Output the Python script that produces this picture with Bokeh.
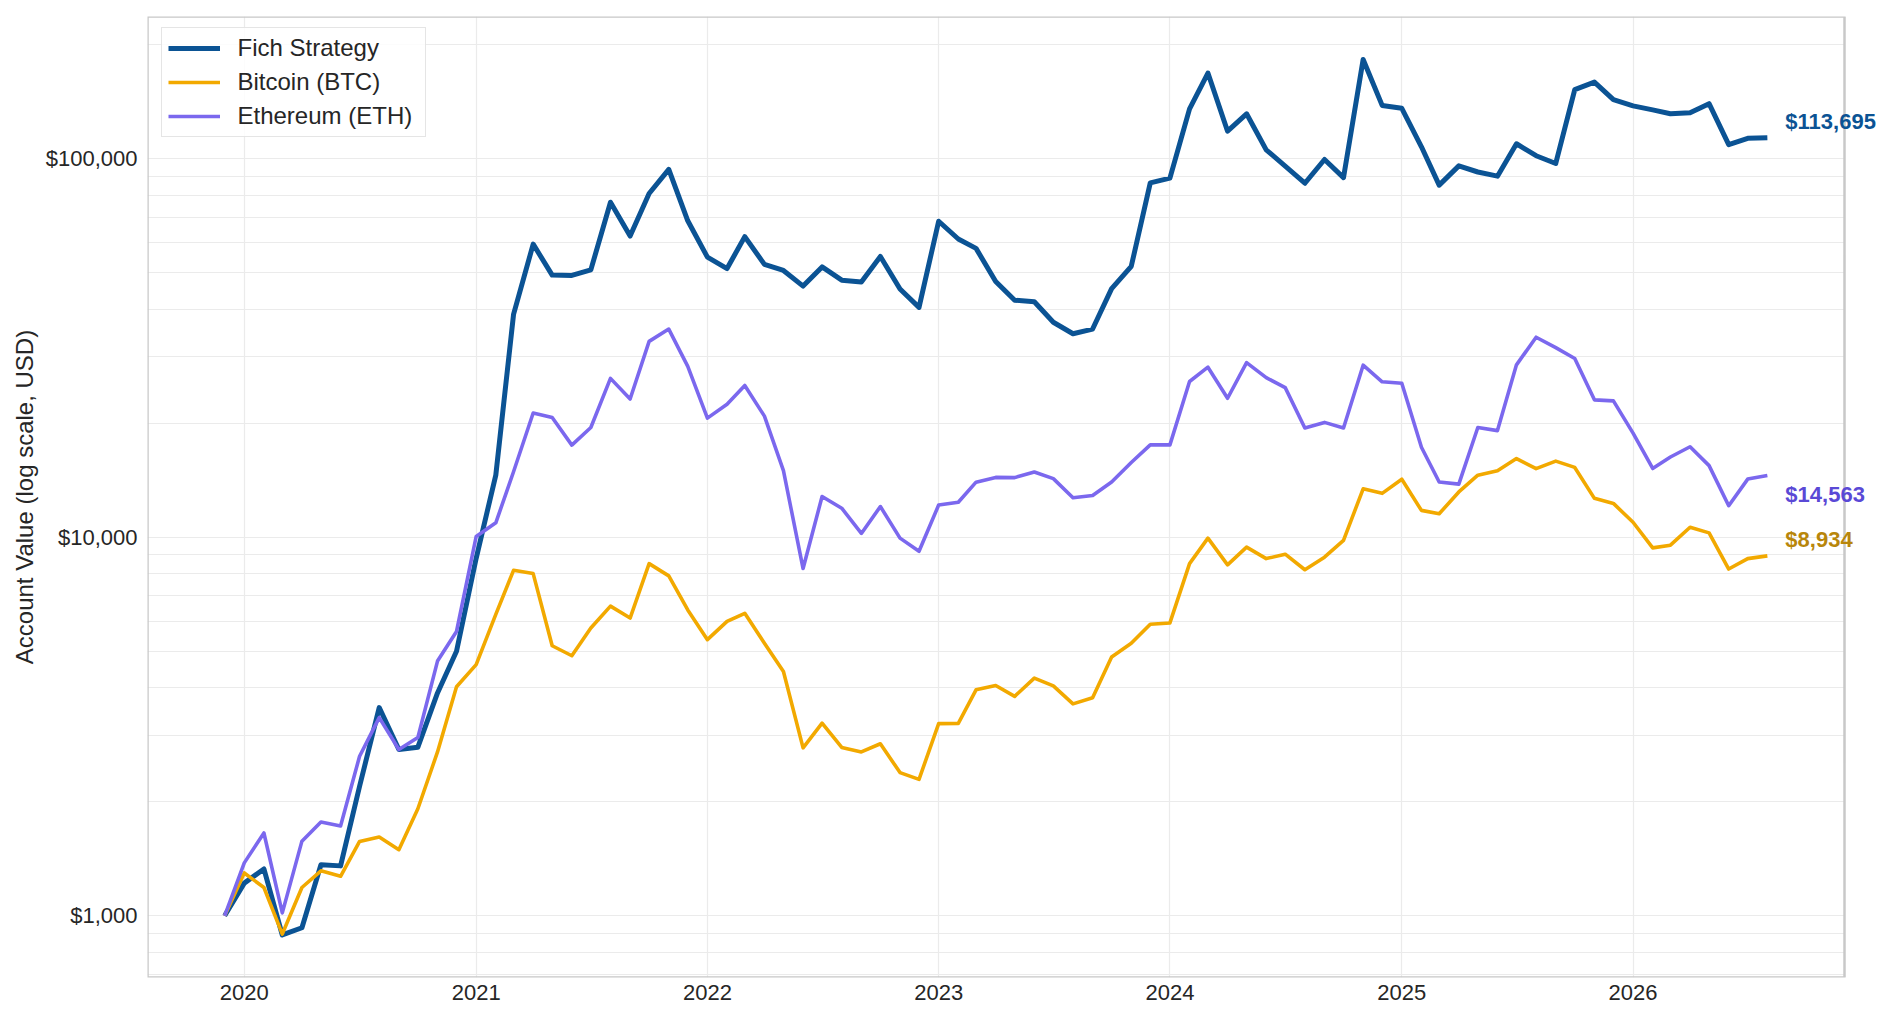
import pandas as pd
from bokeh.plotting import figure
from bokeh.models import (FixedTicker, NumeralTickFormatter, DatetimeTickFormatter,
                          Range1d, Label, Legend, LegendItem, BoxAnnotation)
from bokeh.embed import file_html
from bokeh.resources import INLINE

# ---------------- data ----------------
dates = pd.date_range("2019-12-01", periods=81, freq="MS")

fich = [1000, 1220, 1330, 890, 930, 1365, 1355, 2200, 3550, 2750,
        2790, 3880, 5000, 8800, 14600, 38800, 59500, 49300, 49200, 50900,
        76800, 62500, 81000, 93800, 68600, 55000, 51300, 62300, 52600, 50700,
        46100, 51800, 47800, 47300, 55200, 45300, 40500, 68400, 61400, 58000,
        47400, 42300, 41900, 37000, 34500, 35500, 45400, 52000, 86400, 88900,
        135500, 168500, 118300, 131500, 105600, 95700, 86200, 99600, 89200, 183000,
        138400, 136000, 107600, 85200, 95800, 92300, 90000, 109600, 101900, 97200,
        152300, 159500, 143300, 138000, 134700, 131500, 132300, 139900, 109000, 113300,
        113695]

btc = [1000, 1298, 1188, 895, 1188, 1315, 1272, 1572, 1615, 1495,
       1918, 2710, 4030, 4610, 6260, 8180, 8020, 5170, 4865, 5760,
       6580, 6120, 8520, 7910, 6430, 5365, 5995, 6300, 5250, 4420,
       2778, 3230, 2785, 2710, 2848, 2390, 2293, 3220, 3225, 3955,
       4060, 3800, 4245, 4050, 3630, 3768, 4830, 5250, 5890, 5940,
       8520, 9950, 8460, 9420, 8785, 9025, 8210, 8860, 9815, 13430,
       13065, 14235, 11780, 11540, 13180, 14595, 15000, 16150, 15185, 15900,
       15300, 12675, 12290, 10960, 9378, 9532, 10630, 10275, 8245, 8785,
       8934]

eth = [1000, 1380, 1655, 1018, 1575, 1770, 1728, 2640, 3340, 2750,
       2960, 4710, 5640, 10050, 10920, 14900, 21300, 20720, 17520, 19500,
       26300, 23200, 32940, 35500, 28300, 20650, 22460, 25180, 20900, 15000,
       8270, 12820, 11940, 10240, 12060, 9950, 9185, 12170, 12380, 13990,
       14400, 14380, 14880, 14290, 12720, 12900, 14000, 15760, 17550, 17550,
       25800, 28150, 23300, 28940, 26420, 24860, 19450, 20120, 19450, 28500,
       25760, 25520, 17300, 14000, 13820, 19500, 19140, 28550, 33780, 31700,
       29680, 23080, 22930, 18850, 15200, 16300, 17350, 15470, 12120, 14250,
       14563]

series_names = ["Fich Strategy", "Bitcoin (BTC)", "Ethereum (ETH)"]
tick_years = [2020, 2021, 2022, 2023, 2024, 2025, 2026]
y_ticks = [1000, 10000, 100000]

# ---------------- styles / layout ----------------
FONT = "Liberation Sans"
C_FICH = "#0b5394"
C_BTC = "#f2a900"
C_ETH = "#7b68ee"
LBL_FICH = "#0b5394"
LBL_BTC = "#b8860b"
LBL_ETH = "#5a49d6"
GRID = "#ebebeb"
TXT = "#262626"

W, H = 1878, 1007
FL, FT, FB = 147, 16, 977          # frame left / top / bottom
FR_AXES = 1844                      # visible axes right edge
FR = W                              # actual frame right (room for end labels)

span = dates[-1] - dates[0]
x_start = dates[0] - span * 0.05
x_end_axes = dates[-1] + span * 0.05
x_end = x_start + (x_end_axes - x_start) * ((FR - FL) / (FR_AXES - FL))

y_lo, y_hi = 687.1, 237700

p = figure(width=W, height=H, x_axis_type="datetime", y_axis_type="log",
           x_range=Range1d(x_start, x_end), y_range=Range1d(y_lo, y_hi),
           output_backend="svg", toolbar_location=None, title=None,
           min_border_left=FL, min_border_right=W - FR, min_border_top=FT,
           min_border_bottom=H - FB)

p.background_fill_color = "white"
p.border_fill_color = "white"
p.outline_line_color = None

# axes
xt = FixedTicker(ticks=[pd.Timestamp(f"{y}-01-01").timestamp() * 1000 for y in tick_years])
p.xaxis.ticker = xt
p.xaxis.formatter = DatetimeTickFormatter(years="%Y", months="%Y", days="%Y",
                                          hours="%Y", minutes="%Y", seconds="%Y")
minor = [m * 10 ** k for k in range(2, 6) for m in range(2, 10)]
yt = FixedTicker(ticks=y_ticks, minor_ticks=minor)
p.yaxis.ticker = yt
p.ygrid.ticker = yt
p.xgrid.ticker = xt
p.yaxis.formatter = NumeralTickFormatter(format="$0,0")

for ax in (p.xaxis, p.yaxis):
    ax.axis_line_color = None
    ax.major_tick_line_color = None
    ax.minor_tick_line_color = None
    ax.major_tick_out = 0
    ax.minor_tick_out = 0
    ax.major_label_text_font = FONT
    ax.major_label_text_font_size = "22px"
    ax.major_label_text_color = TXT
p.xaxis.major_label_standoff = 7
p.yaxis.major_label_standoff = 10

p.yaxis.axis_label = "Account Value (log scale, USD)"
p.yaxis.axis_label_text_font = FONT
p.yaxis.axis_label_text_font_size = "24px"
p.yaxis.axis_label_text_font_style = "normal"
p.yaxis.axis_label_text_color = TXT
p.yaxis.axis_label_standoff = 5

p.xgrid.grid_line_color = GRID
p.ygrid.grid_line_color = GRID
p.ygrid.minor_grid_line_color = GRID
p.xgrid.grid_line_width = 1.2
p.ygrid.grid_line_width = 1.2
p.ygrid.minor_grid_line_width = 1.2

# lines
r1 = p.line(dates, fich, line_color=C_FICH, line_width=5, line_join="round")
r2 = p.line(dates, btc, line_color=C_BTC, line_width=3.6, line_join="round")
r3 = p.line(dates, eth, line_color=C_ETH, line_width=3.6, line_join="round")

# white area right of the axes box (label margin) and the axes box border
p.add_layout(BoxAnnotation(left=x_end_axes, fill_color="white", fill_alpha=1.0,
                           line_alpha=0))
p.add_layout(BoxAnnotation(left=x_start, right=x_end_axes, bottom=y_lo, top=y_hi,
                           fill_alpha=0, line_color="#c8c8c8", line_alpha=1.0,
                           line_width=2.5))

# legend (absolute position inside the frame, from its bottom-left corner)
LEG_H = 2 * 6 + 3 * 28 + 2 * 6
legend = Legend(items=[LegendItem(label=series_names[0], renderers=[r1]),
                       LegendItem(label=series_names[1], renderers=[r2]),
                       LegendItem(label=series_names[2], renderers=[r3])],
                location=(13.5, (FB - FT) - 12.5 - LEG_H))
legend.margin = 0
legend.label_text_font = FONT
legend.label_text_font_size = "24px"
legend.label_text_color = TXT
legend.glyph_width = 52
legend.glyph_height = 28
legend.label_height = 28
legend.label_width = 181
legend.spacing = 6
legend.padding = 6
legend.label_standoff = 18
legend.border_line_color = "#cccccc"
legend.border_line_width = 1.5
legend.background_fill_alpha = 0.85
p.add_layout(legend)

# end labels
last_x = dates[-1].timestamp() * 1000
for vals, col, yoff in ((fich, LBL_FICH, 16), (eth, LBL_ETH, -19), (btc, LBL_BTC, 16)):
    p.add_layout(Label(x=last_x, y=vals[-1], text=f"${vals[-1]:,}", x_offset=18,
                       y_offset=yoff, text_baseline="middle", text_align="left",
                       text_font=FONT, text_font_size="22px", text_font_style="bold",
                       text_color=col))

open("out.html", "w").write(file_html(p, INLINE))
